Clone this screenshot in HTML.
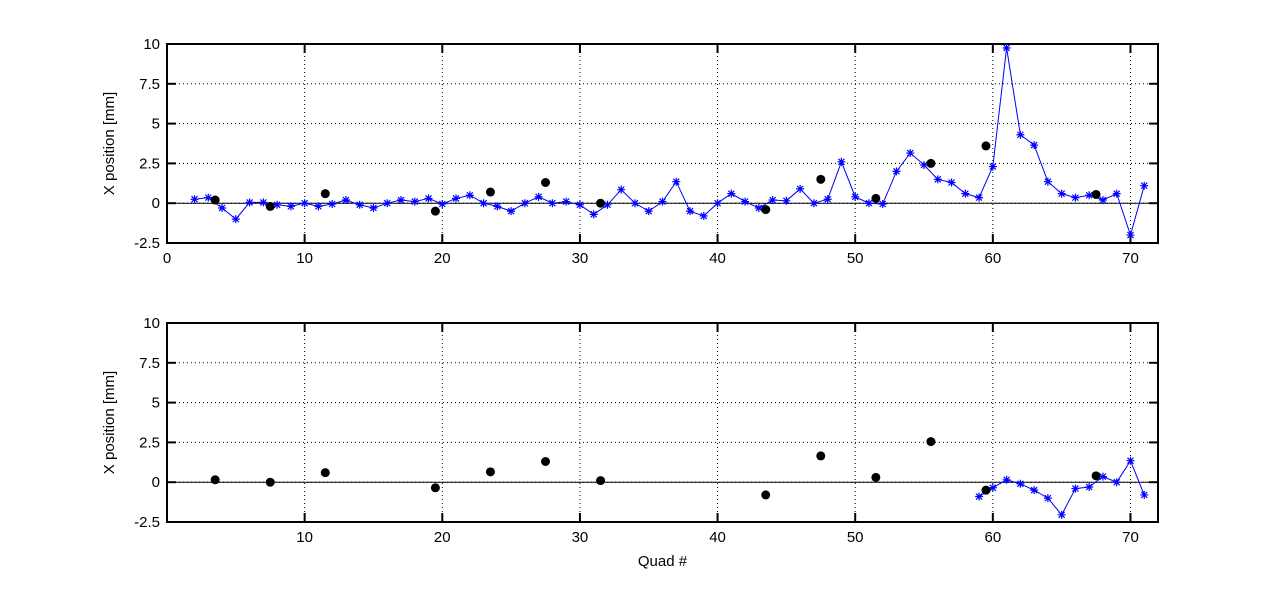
<!DOCTYPE html>
<html><head><meta charset="utf-8"><style>
body{margin:0;background:#fff;}
svg{display:block;font-family:"Liberation Sans",Arial,sans-serif;}
</style></head><body>
<svg id="chart" width="1280" height="589" viewBox="0 0 1280 589" xmlns="http://www.w3.org/2000/svg"></svg>
<script>
const topLineX = [];
for (let i = 2; i <= 71; i++) topLineX.push(i);
const topLineY = [0.25,0.35,-0.3,-1.0,0.05,0.05,-0.1,-0.2,0.0,-0.2,-0.05,0.2,-0.1,-0.3,0.0,0.2,0.1,0.3,-0.05,0.3,0.5,0.0,-0.2,-0.5,0.0,0.4,0.0,0.1,-0.1,-0.7,-0.1,0.85,0.0,-0.5,0.1,1.35,-0.5,-0.8,0.0,0.6,0.1,-0.3,0.2,0.15,0.9,0.0,0.25,2.6,0.4,0.0,-0.05,2.0,3.15,2.4,1.5,1.3,0.6,0.35,2.3,9.75,4.3,3.65,1.35,0.6,0.35,0.5,0.2,0.6,-2.0,1.1];
const dotX = [3.5,7.5,11.5,19.5,23.5,27.5,31.5,43.5,47.5,51.5,55.5,59.5,67.5];
const topDotY = [0.2,-0.2,0.6,-0.5,0.7,1.3,0.0,-0.4,1.5,0.3,2.5,3.6,0.55];
const botDotY = [0.15,0.0,0.6,-0.35,0.65,1.3,0.1,-0.8,1.65,0.3,2.55,-0.5,0.4];
const botLineX = [59,60,61,62,63,64,65,66,67,68,69,70,71];
const botLineY = [-0.9,-0.35,0.15,-0.1,-0.5,-1.0,-2.05,-0.4,-0.3,0.35,0.0,1.35,-0.8];
const yTicks = [-2.5,0,2.5,5,7.5,10];
const yTickLabels = ["-2.5","0","2.5","5","7.5","10"];
const xTicksTop = [0,10,20,30,40,50,60,70];
const xTicksBot = [10,20,30,40,50,60,70];

const NS = "http://www.w3.org/2000/svg";
const svg = document.getElementById('chart');
function mk(tag, attrs, parent){const e=document.createElementNS(NS,tag);for(const k in attrs)e.setAttribute(k,attrs[k]);(parent||svg).appendChild(e);return e;}
const L=167,R=1158;
const xs = v => L + (v-0)/(72-0)*(R-L);

function panel(name, top, bottom, xTicks, lineX, lineY, dY, showXLabel){
  const g = mk('g',{});
  
  
  const ys = v => bottom - (v+2.5)/12.5*(bottom-top);
  mk('rect',{x:L,y:top,width:R-L,height:bottom-top,fill:'#fff'},g);
  xTicks.forEach(t=>{ if(t>0){const l=mk('line',{x1:xs(t),x2:xs(t),y1:top,y2:bottom,stroke:'#000','stroke-width':1,'stroke-dasharray':'1,3'},g);
    }});
  yTicks.forEach(t=>{ if(t>-2.5&&t<10){const l=mk('line',{x1:L,x2:R,y1:ys(t),y2:ys(t),stroke:'#000','stroke-width':1,'stroke-dasharray':'1,3'},g);
    }});
  const z=mk('line',{x1:L,x2:R,y1:ys(0),y2:ys(0),stroke:'#000','stroke-width':1},g);
  
  xTicks.forEach(t=>{
    mk('line',{x1:xs(t),x2:xs(t),y1:bottom,y2:bottom-9,stroke:'#000','stroke-width':2},g);
    mk('line',{x1:xs(t),x2:xs(t),y1:top,y2:top+9,stroke:'#000','stroke-width':2},g);
    const tx=mk('text',{x:xs(t),y:bottom+20,'font-size':15,'text-anchor':'middle'},g);tx.textContent=t;
    
  });
  yTicks.forEach((t,i)=>{
    mk('line',{x1:L,x2:L+9,y1:ys(t),y2:ys(t),stroke:'#000','stroke-width':2},g);
    mk('line',{x1:R,x2:R-9,y1:ys(t),y2:ys(t),stroke:'#000','stroke-width':2},g);
    const tx=mk('text',{x:L-7,y:ys(t)+5,'font-size':15,'text-anchor':'end'},g);tx.textContent=yTickLabels[i];
    
  });
  mk('rect',{x:L,y:top,width:R-L,height:bottom-top,fill:'none',stroke:'#000','stroke-width':2},g);
  const yl=mk('text',{x:0,y:0,'font-size':15,'text-anchor':'middle',transform:`translate(114,${(top+bottom)/2}) rotate(-90)`},g);
  yl.textContent='X position [mm]';
  
  const pts=lineX.map((x,i)=>xs(x)+','+ys(lineY[i])).join(' ');
  const pl=mk('polyline',{points:pts,fill:'none',stroke:'#0000ff','stroke-width':1},g);
  
  lineX.forEach((x,i)=>{
    const cx=xs(x),cy=ys(lineY[i]),s=4;
    const m=mk('path',{d:`M${cx-s},${cy}H${cx+s}M${cx},${cy-s}V${cy+s}M${cx-3},${cy-3}L${cx+3},${cy+3}M${cx-3},${cy+3}L${cx+3},${cy-3}`,stroke:'#0000ff','stroke-width':1.2,fill:'none'},g);
    
  });
  dotX.forEach((x,i)=>{
    const c=mk('circle',{cx:xs(x),cy:ys(dY[i]),r:4.5,fill:'#000'},g);
    
  });
  if(showXLabel){
    const xl=mk('text',{x:(L+R)/2,y:bottom+44,'font-size':15,'text-anchor':'middle'},g);
    xl.textContent='Quad #';
    
  }
}
panel('top-panel',44,243,xTicksTop,topLineX,topLineY,topDotY,false);
panel('bottom-panel',323,522,xTicksBot,botLineX,botLineY,botDotY,true);
</script>
</body></html>
